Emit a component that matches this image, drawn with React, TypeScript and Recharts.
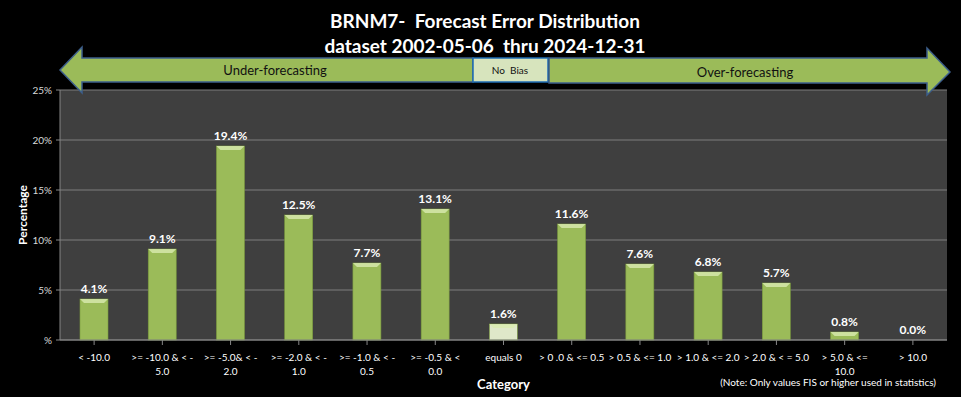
import React from "react";
import { BarChart, Bar, CartesianGrid, XAxis, YAxis, LabelList, Cell } from "recharts";

// values
const categories = [
  ["< -10.0"],
  [">= -10.0 & < -", "5.0"],
  [">= -5.0& < -", "2.0"],
  [">= -2.0 & < -", "1.0"],
  [">= -1.0 & < -", "0.5"],
  [">= -0.5 & <", "0.0"],
  ["equals 0"],
  ["> 0 .0 & <= 0.5"],
  ["> 0.5 & <= 1.0"],
  ["> 1.0 & <= 2.0"],
  ["> 2.0 & < = 5.0"],
  ["> 5.0 & <=", "10.0"],
  ["> 10.0"],
];
const percentages = [4.1, 9.1, 19.4, 12.5, 7.7, 13.1, 1.6, 11.6, 7.6, 6.8, 5.7, 0.8, 0.0];
const yTicks = [0, 5, 10, 15, 20, 25];
const yTickLabels = ["%", "5%", "10%", "15%", "20%", "25%"];
const titleLines = ["BRNM7-  Forecast Error Distribution", "dataset 2002-05-06  thru 2024-12-31"];

const data = categories.map((lines, i) => ({
  key: lines.join(" "),
  lines,
  value: percentages[i],
}));

const FONT = "Lato, 'Open Sans', sans-serif";
const GREEN = "#9BBB59";

function CatTick(props: any) {
  const { x, y, payload } = props;
  const lines = categories[payload.index] || [String(payload.value)];
  return (
    <g>
      {lines.map((t: string, i: number) => (
        <text
          key={i}
          x={x}
          y={y + 14 + i * 14}
          textAnchor="middle"
          fill="#ffffff"
          fontSize={10}
          fontFamily={FONT}
          style={{ whiteSpace: "pre" }}
        >
          {t}
        </text>
      ))}
    </g>
  );
}

function YTick(props: any) {
  const { x, y, payload } = props;
  const idx = yTicks.indexOf(payload.value);
  return (
    <text x={x - 2} y={y + 4} textAnchor="end" fill="#d9d9d9" fontSize={10} fontFamily={FONT}>
      {yTickLabels[idx]}
    </text>
  );
}

function BevelBar(props: any) {
  const { x, y, width, height, fill } = props;
  if (!height || height <= 0) return null;
  const b = Math.min(4, height / 2);
  return (
    <g>
      <rect x={x} y={y} width={width} height={height} fill={fill} stroke="#7a9a3e" strokeWidth={0.6} />
      <polygon
        points={`${x},${y} ${x + width},${y} ${x + width - b},${y + b} ${x + b},${y + b}`}
        fill="#d9ebb0"
        opacity={0.8}
      />
    </g>
  );
}

export default function App() {
  return (
    <div style={{ position: "relative", width: 961, height: 397, background: "#000" }}>
      <style>{`body{margin:0;background:#000}`}</style>
      <BarChart
        width={961}
        height={397}
        data={data}
        margin={{ top: 90, right: 14, bottom: 12, left: 20 }}
        barSize={28}
      >
        <CartesianGrid vertical={false} stroke="#7f7f7f" fill="#3f3f3f" />
        <XAxis
          dataKey="key"
          interval={0}
          height={45}
          stroke="#868686"
          tickSize={5}
          tick={<CatTick />}
          label={{
            value: "Category",
            position: "insideBottom",
            offset: -4,
            fill: "#ffffff",
            fontSize: 13,
            fontWeight: "bold",
            fontFamily: FONT,
          }}
        />
        <YAxis
          domain={[0, 25]}
          ticks={yTicks}
          width={40}
          stroke="#868686"
          tickSize={4}
          tick={<YTick />}
        />
        <Bar dataKey="value" isAnimationActive={false} shape={<BevelBar />}>
          {data.map((d, i) => (
            <Cell key={i} fill={d.key === "equals 0" ? "#dfe8c9" : GREEN} />
          ))}
          <LabelList
            dataKey="value"
            position="top"
            offset={6}
            formatter={(v: any) => `${Number(v).toFixed(1)}%`}
            fill="#ffffff"
            fontSize={12}
            fontWeight="bold"
            fontFamily={FONT}
          />
        </Bar>
      </BarChart>
      <svg
        width={961}
        height={397}
        style={{ position: "absolute", left: 0, top: 0, pointerEvents: "none" }}
      >
        {titleLines.map((t, i) => (
          <text
            key={i}
            x={485}
            y={28 + i * 25}
            textAnchor="middle"
            fill="#ffffff"
            fontSize={19}
            fontWeight="bold"
            fontFamily={FONT}
            style={{ whiteSpace: "pre" }}
          >
            {t}
          </text>
        ))}
        <text
          x={22}
          y={215}
          transform="rotate(-90 22 215)"
          textAnchor="middle"
          dominantBaseline="central"
          fill="#ffffff"
          fontSize={12}
          fontWeight="bold"
          fontFamily={FONT}
        >
          Percentage
        </text>
        <polygon
          points="60,70 82,47 82,58 473,58 473,82 82,82 82,93"
          fill={GREEN}
          stroke="#3d5f8c"
          strokeWidth={1.5}
        />
        <text x={275} y={75} textAnchor="middle" fontSize={13} fill="#111" fontFamily={FONT}>
          Under-forecasting
        </text>
        <rect x={473} y={58} width={75} height={24} fill="#d7e4bd" stroke="#1f6db4" strokeWidth={1.5} />
        <text
          x={510}
          y={74}
          textAnchor="middle"
          fontSize={10}
          fill="#111"
          fontFamily={FONT}
          style={{ whiteSpace: "pre" }}
        >
          No  Bias
        </text>
        <polygon
          points="549,58 927,58 927,48 950,72 927,95 927,83 549,83"
          fill={GREEN}
          stroke="#3d5f8c"
          strokeWidth={1.5}
        />
        <text x={745} y={77} textAnchor="middle" fontSize={13} fill="#111" fontFamily={FONT}>
          Over-forecasting
        </text>
        <text x={936} y={386} textAnchor="end" fontSize={10} fill="#ffffff" fontFamily={FONT}>
          (Note: Only values FIS or higher used in statistics)
        </text>
      </svg>
    </div>
  );
}
